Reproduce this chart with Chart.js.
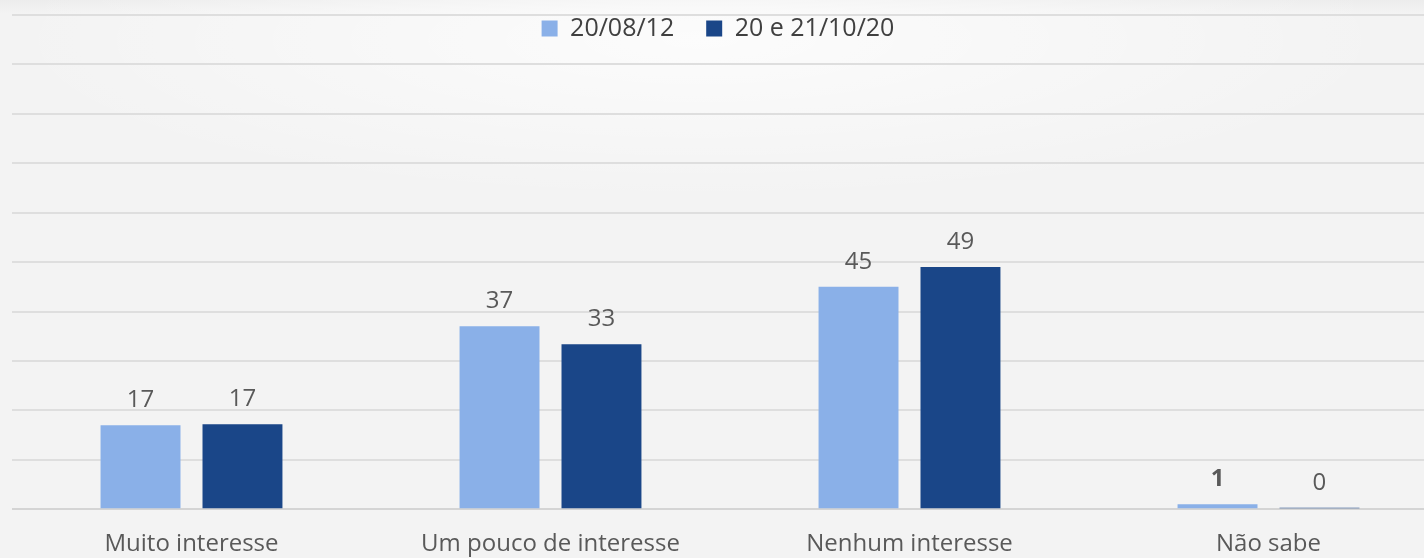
<!DOCTYPE html>
<html>
<head>
<meta charset="utf-8">
<script src="https://cdn.jsdelivr.net/npm/chart.js"></script>
<style>
  html, body {
    margin: 0;
    padding: 0;
    width: 1424px;
    height: 558px;
    overflow: hidden;
    background: #f2f2f2;
  }
  .wrap {
    position: relative;
    width: 1460px;
    height: 572px;
    background:
      radial-gradient(ellipse 700px 160px at 700px 40px, rgba(255,255,255,0.75), rgba(255,255,255,0) 100%),
      linear-gradient(to bottom, #ececec 0px, #f3f3f3 14px, #f3f3f3 100%);
  }
</style>
</head>
<body>
<div class="wrap">
  <canvas id="chart" width="1460" height="572"></canvas>
</div>
<script>
const categories = ['Muito interesse', 'Um pouco de interesse', 'Nenhum interesse', 'Não sabe'];
const seriesNames = ['20/08/12', '20 e 21/10/20'];
const values2012 = [17, 37, 45, 1];
const values2020 = [17.2, 33.4, 49, 0.3];
const yTicks = [0, 10, 20, 30, 40, 50, 60, 70, 80, 90, 100];

const lightBlue = '#8ab0e8';
const darkBlue = '#1a4688';

// draws the value above each bar, like the office data labels
const barLabels = {
  id: 'barLabels',
  afterDatasetsDraw(chart) {
    const ctx = chart.ctx;
    ctx.save();
    ctx.fillStyle = '#595959';
    ctx.textAlign = 'center';
    ctx.textBaseline = 'alphabetic';
    chart.data.datasets.forEach((ds, di) => {
      const meta = chart.getDatasetMeta(di);
      meta.data.forEach((bar, i) => {
        const bold = di === 0 && i === 3;
        ctx.font = (bold ? 'bold ' : '') + '24px "Open Sans"';
        ctx.fillText(String(Math.round(ds.data[i])), bar.x, bar.y - 18);
      });
    });
    ctx.restore();
  }
};

// legend sits over the top of the plot, so it takes no layout space
const floatingLegend = {
  id: 'floatingLegend',
  afterInit(chart) {
    const legend = chart.legend;
    const fit = legend.fit;
    legend.fit = function () {
      fit.call(this);
      this.height = 0;
    };
  },
  afterLayout(chart) {
    const legend = chart.legend;
    legend.top = -16;
    legend.bottom = 60;
    legend.left -= 12;
    legend.right -= 12;
  }
};

new Chart(document.getElementById('chart'), {
  type: 'bar',
  data: {
    labels: categories,
    datasets: [
      { label: seriesNames[0], data: values2012, backgroundColor: lightBlue },
      { label: seriesNames[1], data: values2020, backgroundColor: darkBlue }
    ]
  },
  options: {
    responsive: false,
    animation: false,
    maintainAspectRatio: false,
    categoryPercentage: 0.568,
    barPercentage: 0.784,
    layout: { padding: { left: 12, right: 12, top: 15, bottom: 0 } },
    plugins: {
      tooltip: { enabled: false },
      legend: {
        position: 'top',
        align: 'center',
        labels: {
          boxWidth: 16,
          boxHeight: 16,
          padding: 32,
          color: '#404040',
          font: { family: 'Open Sans', size: 25 }
        }
      }
    },
    scales: {
      x: {
        grid: { display: false },
        border: { display: false },
        ticks: {
          color: '#595959',
          padding: 13,
          font: { family: 'Open Sans', size: 24 }
        }
      },
      y: {
        min: 0,
        max: 100,
        afterBuildTicks(scale) {
          scale.ticks = yTicks.map(v => ({ value: v }));
        },
        ticks: { display: false },
        border: { display: false },
        grid: {
          color: ctx => ctx.tick && ctx.tick.value === 0 ? '#d4d4d4' : '#dedede',
          lineWidth: 2,
          drawTicks: false
        }
      }
    }
  },
  plugins: [barLabels, floatingLegend]
});
</script>
</body>
</html>
